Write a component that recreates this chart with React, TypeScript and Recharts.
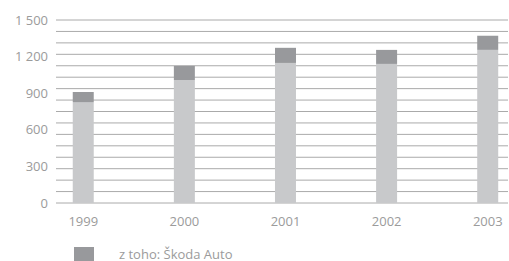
import React from "react";
import { BarChart, Bar, XAxis, YAxis, ReferenceLine } from "recharts";

// values (thousands of units)
const years = [1999, 2000, 2001, 2002, 2003];
const otherValues = [827, 1008, 1148, 1140, 1255];
const skodaValues = [83, 116, 124, 115, 116];

const yTicks = [0, 300, 600, 900, 1200, 1500];
// the grid is 16 even steps, not aligned with the labels
const gridValues = [
  0, 93.75, 187.5, 281.25, 375, 468.75, 562.5, 656.25, 750, 843.75, 937.5,
  1031.25, 1125, 1218.75, 1312.5, 1406.25, 1500,
];

const data = years.map((year, i) => ({
  year,
  other: otherValues[i],
  skoda: skodaValues[i],
}));

const textColor = "#9b9b9b";
const font = "'Open Sans', sans-serif";
const margin = { top: 20, right: 1, left: 0, bottom: 28 };

const fmt = (v: number) =>
  v >= 1000 ? `${Math.floor(v / 1000)} ${String(v % 1000).padStart(3, "0")}` : String(v);

function Axes({ showText }: { showText: boolean }) {
  const tick = showText
    ? { fill: textColor, fontSize: 13, fontFamily: font }
    : { fill: "transparent", fontSize: 13, fontFamily: font };
  return [
    <XAxis
      key="x"
      dataKey="year"
      type="number"
      domain={[1998.73, 2003.2]}
      ticks={years}
      allowDataOverflow
      axisLine={false}
      tickLine={false}
      tickSize={0}
      tickMargin={14}
      height={30}
      tick={tick}
    />,
    <YAxis
      key="y"
      domain={[0, 1500]}
      ticks={yTicks}
      interval={0}
      tickFormatter={fmt}
      axisLine={false}
      tickLine={false}
      tickSize={0}
      tickMargin={8}
      width={56}
      tick={tick}
    />,
  ];
}

function Bars({ visible }: { visible: boolean }) {
  return [
    <Bar key="o" dataKey="other" stackId="a" fill={visible ? "#c8c9cb" : "transparent"} barSize={21} isAnimationActive={false} />,
    <Bar key="s" dataKey="skoda" stackId="a" fill={visible ? "#98999c" : "transparent"} barSize={21} isAnimationActive={false} />,
  ];
}

export default function App() {
  return (
    <div style={{ position: "absolute", left: 0, top: 0, width: 509, height: 261 }}>
      {/* grid layer, drawn behind the bars */}
      <div style={{ position: "absolute", left: 0, top: 0 }}>
        <BarChart width={509} height={261} data={data} margin={margin}>
          {Axes({ showText: false })}
          {Bars({ visible: false })}
          {gridValues.map((v) => (
            <ReferenceLine key={v} y={v} stroke="#aaaaaa" strokeWidth={1} />
          ))}
        </BarChart>
      </div>
      <div style={{ position: "absolute", left: 0, top: 0 }}>
        <BarChart width={509} height={261} data={data} margin={margin}>
          {Axes({ showText: true })}
          {Bars({ visible: true })}
        </BarChart>
      </div>
      <div
        style={{
          position: "absolute",
          left: 74,
          top: 245,
          display: "flex",
          alignItems: "center",
          fontFamily: font,
          fontSize: 13,
          color: textColor,
          whiteSpace: "nowrap",
        }}
      >
        <span style={{ display: "inline-block", width: 20, height: 15, background: "#98999c", marginRight: 25 }} />
        <span>z toho: Škoda Auto</span>
      </div>
    </div>
  );
}
